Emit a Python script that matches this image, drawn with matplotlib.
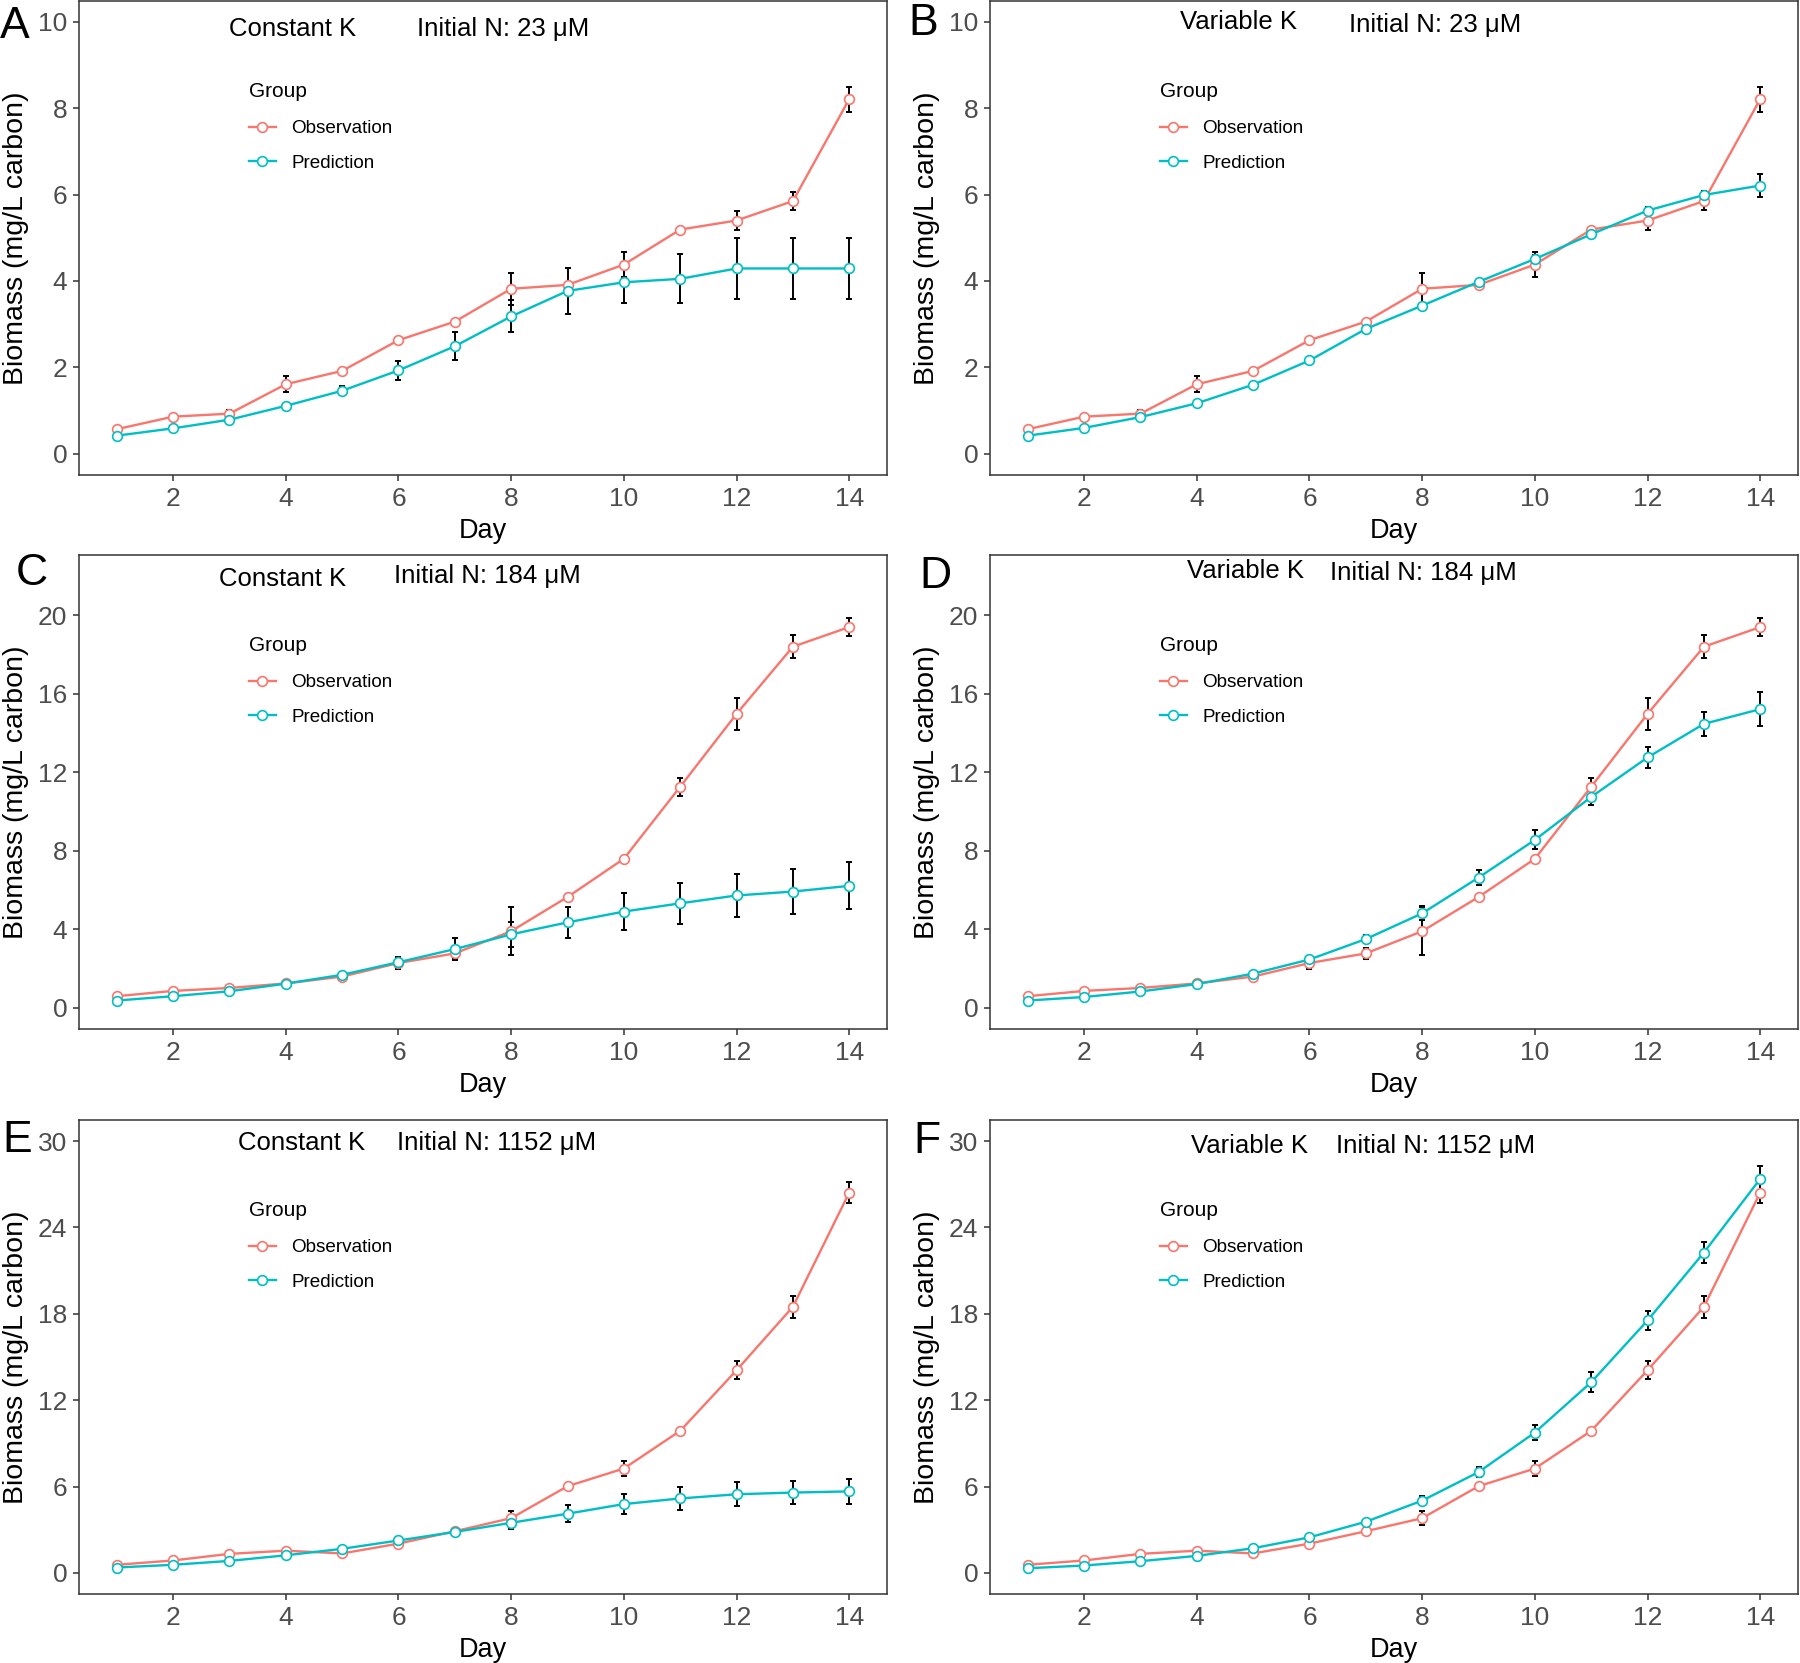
import matplotlib
matplotlib.use('Agg')
import matplotlib.pyplot as plt

plt.rcParams['font.family'] = ['Liberation Sans', 'DejaVu Sans']

days = [1, 2, 3, 4, 5, 6, 7, 8, 9, 10, 11, 12, 13, 14]

# observations (shared by the constant K and variable K panels)
obs_23 = [0.57, 0.86, 0.93, 1.61, 1.92, 2.63, 3.06, 3.82, 3.91, 4.38, 5.19, 5.40, 5.85, 8.21]
obs_23_err = [0.07, 0.06, 0.08, 0.18, 0.04, 0.08, 0.07, 0.37, 0.05, 0.29, 0.05, 0.21, 0.20, 0.29]
obs_184 = [0.60, 0.87, 1.02, 1.25, 1.60, 2.29, 2.78, 3.91, 5.65, 7.60, 11.27, 14.98, 18.40, 19.40]
obs_184_err = [0.10, 0.10, 0.10, 0.05, 0.15, 0.30, 0.28, 1.22, 0.10, 0.10, 0.45, 0.80, 0.58, 0.45]
obs_1152 = [0.56, 0.86, 1.32, 1.54, 1.35, 2.03, 2.89, 3.80, 6.02, 7.25, 9.87, 14.08, 18.49, 26.43]
obs_1152_err = [0.10, 0.10, 0.10, 0.10, 0.10, 0.15, 0.15, 0.50, 0.25, 0.50, 0.10, 0.64, 0.77, 0.76]

# model predictions
pred_23_const = [0.42, 0.59, 0.79, 1.11, 1.46, 1.93, 2.49, 3.18, 3.77, 3.97, 4.05, 4.29, 4.29, 4.29]
pred_23_const_err = [0.02, 0.02, 0.03, 0.06, 0.10, 0.22, 0.32, 0.37, 0.54, 0.48, 0.57, 0.71, 0.71, 0.71]
pred_23_var = [0.42, 0.60, 0.85, 1.17, 1.60, 2.16, 2.89, 3.43, 3.98, 4.51, 5.08, 5.63, 5.99, 6.21]
pred_23_var_err = [0.02, 0.02, 0.03, 0.04, 0.05, 0.05, 0.05, 0.06, 0.07, 0.10, 0.06, 0.08, 0.10, 0.26]

pred_184_const = [0.38, 0.60, 0.85, 1.24, 1.69, 2.33, 3.00, 3.75, 4.36, 4.91, 5.33, 5.73, 5.93, 6.22]
pred_184_const_err = [0.02, 0.03, 0.05, 0.08, 0.10, 0.15, 0.55, 0.63, 0.80, 0.93, 1.03, 1.10, 1.16, 1.20]
pred_184_var = [0.38, 0.56, 0.84, 1.22, 1.75, 2.47, 3.51, 4.82, 6.64, 8.56, 10.75, 12.76, 14.47, 15.22]
pred_184_var_err = [0.02, 0.03, 0.05, 0.05, 0.10, 0.15, 0.20, 0.35, 0.38, 0.48, 0.43, 0.53, 0.60, 0.85]

pred_1152_const = [0.37, 0.56, 0.83, 1.22, 1.67, 2.25, 2.84, 3.48, 4.11, 4.78, 5.17, 5.46, 5.58, 5.66]
pred_1152_const_err = [0.02, 0.03, 0.05, 0.05, 0.10, 0.15, 0.20, 0.45, 0.58, 0.71, 0.80, 0.83, 0.83, 0.86]
pred_1152_var = [0.32, 0.51, 0.81, 1.18, 1.71, 2.47, 3.55, 5.02, 7.00, 9.75, 13.25, 17.54, 22.26, 27.38]
pred_1152_var_err = [0.02, 0.03, 0.05, 0.05, 0.08, 0.10, 0.15, 0.30, 0.35, 0.55, 0.70, 0.65, 0.76, 0.87]

x_ticks = [2, 4, 6, 8, 10, 12, 14]

OBS_COLOR = '#F8766D'
PRED_COLOR = '#00BFC4'

W, H = 1800, 1663
fig = plt.figure(figsize=(W / 100, H / 100), dpi=100)


def px_axes(left, top, width=808, height=474):
    return fig.add_axes([left / W, 1 - (top + height) / H, width / W, height / H])


def draw_panel(ax, obs, obs_err, pred, pred_err, yticks, ylim, k_text, n_text, k_pos, n_pos):
    ax.errorbar(days, obs, yerr=obs_err, fmt='none', ecolor='black', elinewidth=1.4,
                capsize=2.2, capthick=1.4, zorder=2)
    ax.errorbar(days, pred, yerr=pred_err, fmt='none', ecolor='black', elinewidth=1.4,
                capsize=2.2, capthick=1.4, zorder=2)
    ax.plot(days, obs, color=OBS_COLOR, lw=1.7, marker='o', ms=7, mfc='white',
            mec=OBS_COLOR, mew=1.2, label='Observation', zorder=3)
    ax.plot(days, pred, color=PRED_COLOR, lw=1.7, marker='o', ms=7, mfc='white',
            mec=PRED_COLOR, mew=1.2, label='Prediction', zorder=3)

    ax.set_xlim(0.33, 14.67)
    ax.set_ylim(*ylim)
    ax.set_xticks(x_ticks)
    ax.set_yticks(yticks)
    ax.tick_params(axis='both', labelsize=19, labelcolor='#4D4D4D', color='#333333',
                   length=4, width=1.1, pad=4.5)
    for sp in ax.spines.values():
        sp.set_color('#333333')
        sp.set_linewidth(1.1)

    ax.set_xlabel('Day', fontsize=19.5, va='center')
    ax.xaxis.set_label_coords(0.5, -0.118)
    ax.set_ylabel('Biomass (mg/L carbon)', fontsize=20.5, va='center')
    ax.yaxis.set_label_coords(-0.078, 0.5)

    ax.text(k_pos[0], k_pos[1], k_text, transform=ax.transAxes, ha='center',
            va='baseline', fontsize=18.5)
    ax.text(n_pos[0], n_pos[1], n_text, transform=ax.transAxes, ha='center',
            va='baseline', fontsize=18.5)

    leg = ax.legend(loc='upper left', bbox_to_anchor=(0.21, 0.83), frameon=False,
                    title='Group', fontsize=13.6, title_fontsize=15, handlelength=1.45,
                    handletextpad=0.8, labelspacing=0.92, borderpad=0, borderaxespad=0)
    leg._legend_box.align = 'left'
    leg._legend_box.sep = 14


ax_a = px_axes(79, 1)
draw_panel(ax_a, obs_23, obs_23_err, pred_23_const, pred_23_const_err,
           [0, 2, 4, 6, 8, 10], (-0.49, 10.48), 'Constant K', 'Initial N: 23 μM',
           (0.264, 0.927), (0.525, 0.927))

ax_b = px_axes(990, 1)
draw_panel(ax_b, obs_23, obs_23_err, pred_23_var, pred_23_var_err,
           [0, 2, 4, 6, 8, 10], (-0.49, 10.48), 'Variable K', 'Initial N: 23 μM',
           (0.308, 0.941), (0.551, 0.935))

ax_c = px_axes(79, 555)
draw_panel(ax_c, obs_184, obs_184_err, pred_184_const, pred_184_const_err,
           [0, 4, 8, 12, 16, 20], (-1.07, 23.07), 'Constant K', 'Initial N: 184 μM',
           (0.252, 0.935), (0.505, 0.941))

ax_d = px_axes(990, 555)
draw_panel(ax_d, obs_184, obs_184_err, pred_184_var, pred_184_var_err,
           [0, 4, 8, 12, 16, 20], (-1.07, 23.07), 'Variable K', 'Initial N: 184 μM',
           (0.316, 0.951), (0.536, 0.947))

ax_e = px_axes(79, 1120)
draw_panel(ax_e, obs_1152, obs_1152_err, pred_1152_const, pred_1152_const_err,
           [0, 6, 12, 18, 24, 30], (-1.47, 31.47), 'Constant K', 'Initial N: 1152 μM',
           (0.275, 0.937), (0.517, 0.937))

ax_f = px_axes(990, 1120)
draw_panel(ax_f, obs_1152, obs_1152_err, pred_1152_var, pred_1152_var_err,
           [0, 6, 12, 18, 24, 30], (-1.47, 31.47), 'Variable K', 'Initial N: 1152 μM',
           (0.321, 0.930), (0.552, 0.930))

# panel letters
letters = [('A', 0, 6), ('B', 908, 3), ('C', 16, 553), ('D', 919, 556), ('E', 2, 1120), ('F', 913, 1121)]
for letter, lx, ly in letters:
    fig.text(lx / W, 1 - ly / H, letter, ha='left', va='top', fontsize=32)

fig.savefig('out.png', dpi=100)
